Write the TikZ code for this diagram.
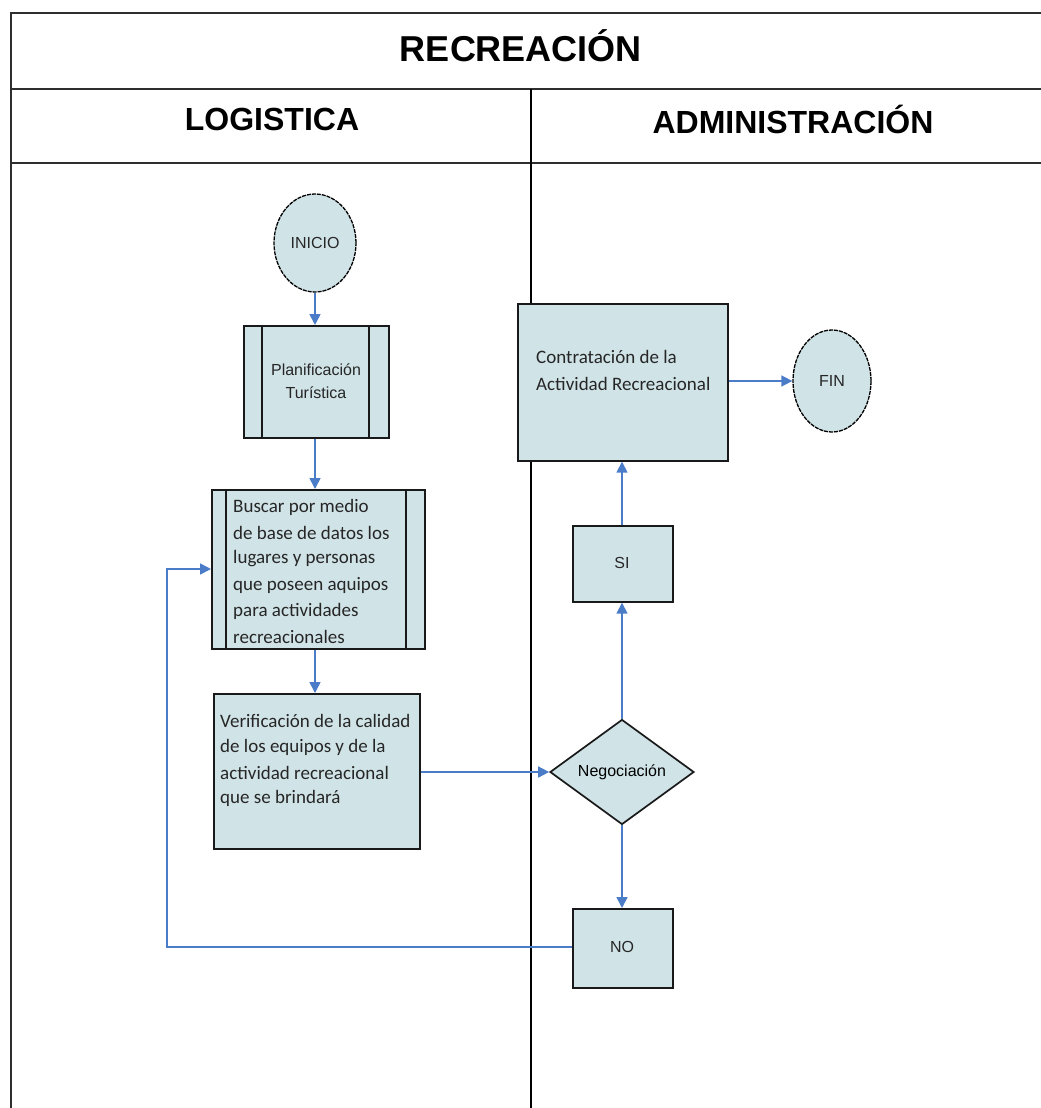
\documentclass[tikz,border=0pt]{standalone}
\usepackage{fontspec}
\setmainfont{Liberation Sans}
\newfontfamily\bodyfont{Carlito}
\usetikzlibrary{shapes.geometric,arrows.meta}
\definecolor{boxfill}{HTML}{D0E3E7}
\definecolor{flow}{HTML}{4A7CC7}
\definecolor{frame}{HTML}{2E2E2E}
\tikzset{
  x=1pt, y=-1pt,
  gridline/.style={draw=frame, line width=2pt},
  lanetitle/.style={font=\fontsize{32}{36}\selectfont\bfseries},
  proc/.style={draw=black!90, line width=1.7pt, fill=boxfill, inner sep=0pt, anchor=north west},
  terminal/.style={ellipse, draw=black, line width=1.3pt, dash pattern=on 4pt off 1pt,
    fill=boxfill, inner sep=0pt, font=\fontsize{16}{18}\selectfont, text=black!85},
  decision/.style={diamond, draw=black!90, line width=1.7pt, fill=boxfill, inner sep=0pt,
    minimum width=144pt, minimum height=105pt, font=\fontsize{16}{18}\selectfont},
  flowarrow/.style={draw=flow, line width=1.6pt, -{Triangle[length=11pt,width=11pt]}},
  bodytext/.style={font=\bodyfont\fontsize{19}{26}\selectfont, text=black!85, anchor=west, inner sep=0pt},
  smalltext/.style={font=\fontsize{16}{23}\selectfont, text=black!85, align=center},
}
\begin{document}
\begin{tikzpicture}
\useasboundingbox (0,0) rectangle (1041,1108);

% swimlane frame
\draw[gridline] (1041,13) -- (11,13) -- (11,1108);
\draw[gridline] (11,89) -- (1041,89);
\draw[gridline] (11,163) -- (1041,163);
\draw[draw=black, line width=2.6pt] (531,89) -- (531,1108);

\node[lanetitle, font=\fontsize{36}{40}\selectfont\bfseries] (title) at (521,46) {RECREACIÓN};
\node[lanetitle] (lanea) at (272,119) {LOGISTICA};
\node[lanetitle] (laneb) at (793,119) {ADMINISTRACIÓN};

% LOGISTICA lane
\node[terminal, minimum width=82pt, minimum height=98pt] (inicio) at (315,243) {INICIO};

\node[proc, minimum width=145pt, minimum height=112pt] (plan) at (243,325) {};
\draw[black!90, line width=1.7pt] (262,325) -- (262,437) (369,325) -- (369,437);
\node[smalltext] (plantext) at (316,381) {Planificación\\Turística};

\node[proc, minimum width=213pt, minimum height=159pt] (buscar) at (211,489) {};
\draw[black!90, line width=1.7pt] (226,489) -- (226,648) (406,489) -- (406,648);
\node[bodytext] (b1) at (233,507) {Buscar por medio};
\node[bodytext] (b2) at (233,533) {de base de datos los};
\node[bodytext] (b3) at (233,559) {lugares y personas};
\node[bodytext] (b4) at (233,585) {que poseen aquipos};
\node[bodytext] (b5) at (233,611) {para actividades};
\node[bodytext] (b6) at (233,637) {recreacionales};

\node[proc, minimum width=206pt, minimum height=155pt] (verif) at (213,693) {};
\node[bodytext] (v1) at (220,721) {Verificación de la calidad};
\node[bodytext] (v2) at (220,747) {de los equipos y de la};
\node[bodytext] (v3) at (220,773) {actividad recreacional};
\node[bodytext] (v4) at (220,798) {que se brindará};

% ADMINISTRACIÓN lane
\node[proc, minimum width=210pt, minimum height=157pt] (contrat) at (517,303) {};
\node[bodytext] (c1) at (536,357) {Contratación de la};
\node[bodytext] (c2) at (536,384) {Actividad Recreacional};

\node[terminal, minimum width=78pt, minimum height=102pt] (fin) at (832,381) {FIN};

\node[proc, minimum width=100pt, minimum height=76pt] (si) at (572,525) {};
\node[smalltext] (sitext) at (622,563) {SI};

\node[decision] (nego) at (622,772) {Negociación};

\node[proc, minimum width=100pt, minimum height=79pt] (no) at (572,908) {};
\node[smalltext] (notext) at (622,947) {NO};

% connectors
\draw[flowarrow] (inicio.south) -- (plan.north -| inicio.south);
\draw[flowarrow] (plan.south -| inicio.south) -- (buscar.north -| inicio.south);
\draw[flowarrow] (buscar.south -| inicio.south) -- (verif.north -| inicio.south);
\draw[flowarrow] (verif.east |- nego.west) -- (nego.west);
\draw[flowarrow] (nego.north) -- (si.south -| nego.north);
\draw[flowarrow] (si.north -| nego.north) -- (contrat.south -| nego.north);
\draw[flowarrow] (contrat.east |- fin.west) -- (fin.west);
\draw[flowarrow] (nego.south) -- (no.north -| nego.south);
\draw[flowarrow] (no.west |- notext) -- (167,947) -- (167,569) -- (buscar.west |- 0,569);
\end{tikzpicture}
\end{document}
